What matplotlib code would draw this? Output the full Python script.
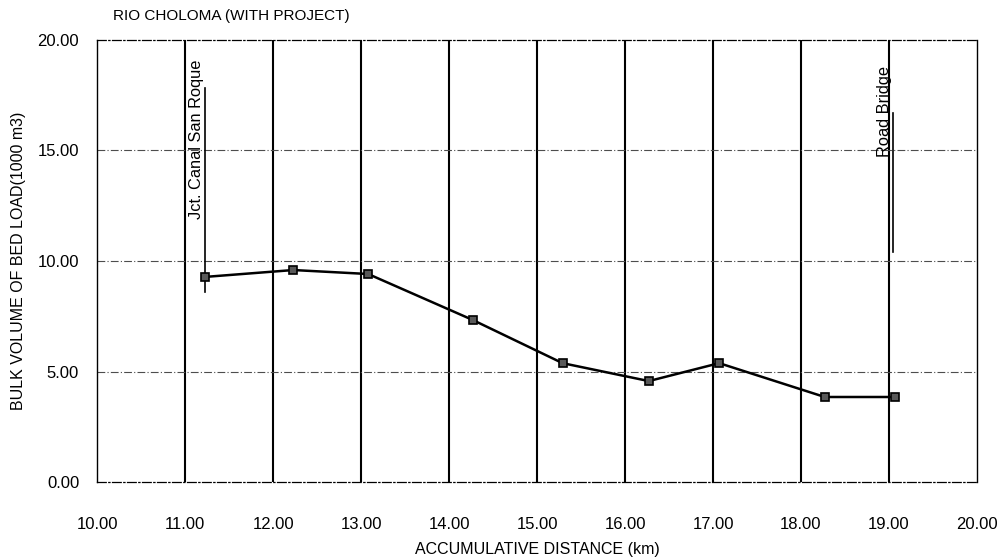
import matplotlib
matplotlib.use("Agg")
import matplotlib.pyplot as plt

plt.rcParams['font.family'] = ['Liberation Sans', 'DejaVu Sans']

# bed load along the river
distance_km = [11.23, 12.23, 13.08, 14.27, 15.29, 16.27, 17.07, 18.27, 19.07]
bed_load = [9.28, 9.59, 9.41, 7.33, 5.38, 4.57, 5.38, 3.85, 3.85]

x_ticks = [10, 11, 12, 13, 14, 15, 16, 17, 18, 19, 20]
y_ticks = [0, 5, 10, 15, 20]

# landmarks: name, x position, line from/to, text bottom
landmarks = [
    ("Jct. Canal San Roque", 11.23, 8.6, 17.8, 11.9),
    ("Road Bridge", 19.05, 10.4, 16.7, 14.7),
]

fig = plt.figure(figsize=(10.02, 5.6), dpi=100)
ax = fig.add_axes([0.097, 0.139, 0.878, 0.79])

ax.set_xlim(10, 20)
ax.set_ylim(0, 20)
ax.set_xticks(x_ticks)
ax.set_yticks(y_ticks)
ax.set_xticklabels(["%.2f" % v for v in x_ticks], fontsize=12)
ax.set_yticklabels(["%.2f" % v for v in y_ticks], fontsize=12)
ax.tick_params(length=0)
ax.tick_params(axis='x', pad=25)
ax.tick_params(axis='y', pad=13)

# grid: solid verticals, dash-dot horizontals
for xv in x_ticks[1:-1]:
    ax.axvline(xv, color='black', lw=1.5, zorder=1)
for yv in y_ticks[1:-1]:
    ax.axhline(yv, color='0.3', lw=0.8, ls=(0, (7, 2, 1, 2)), zorder=1)

for side in ['top', 'bottom']:
    ax.spines[side].set_linestyle((0, (7, 2, 1, 2)))
    ax.spines[side].set_linewidth(0.9)
for side in ['left', 'right']:
    ax.spines[side].set_linestyle((0, (3, 1)))
    ax.spines[side].set_linewidth(1.0)

ax.plot(distance_km, bed_load, color='black', lw=1.8, marker='s', ms=5.5,
        mfc='0.35', mec='black', mew=1.2, zorder=3)

for name, xp, y0, y1, ty in landmarks:
    ax.plot([xp, xp], [y0, y1], color='black', lw=1.2, zorder=2)
    ax.text(xp - 0.02, ty, name, rotation=90, ha='right', va='bottom',
            fontsize=11.8, zorder=4)

ax.set_xlabel("ACCUMULATIVE DISTANCE (km)", fontsize=11.5, labelpad=7)
ax.set_ylabel("BULK VOLUME OF BED LOAD(1000 m3)", fontsize=11.5, labelpad=8)
fig.text(0.113, 0.972, "RIO CHOLOMA (WITH PROJECT)", fontsize=11,
         ha='left', va='center')

fig.savefig("out.png", dpi=100)
